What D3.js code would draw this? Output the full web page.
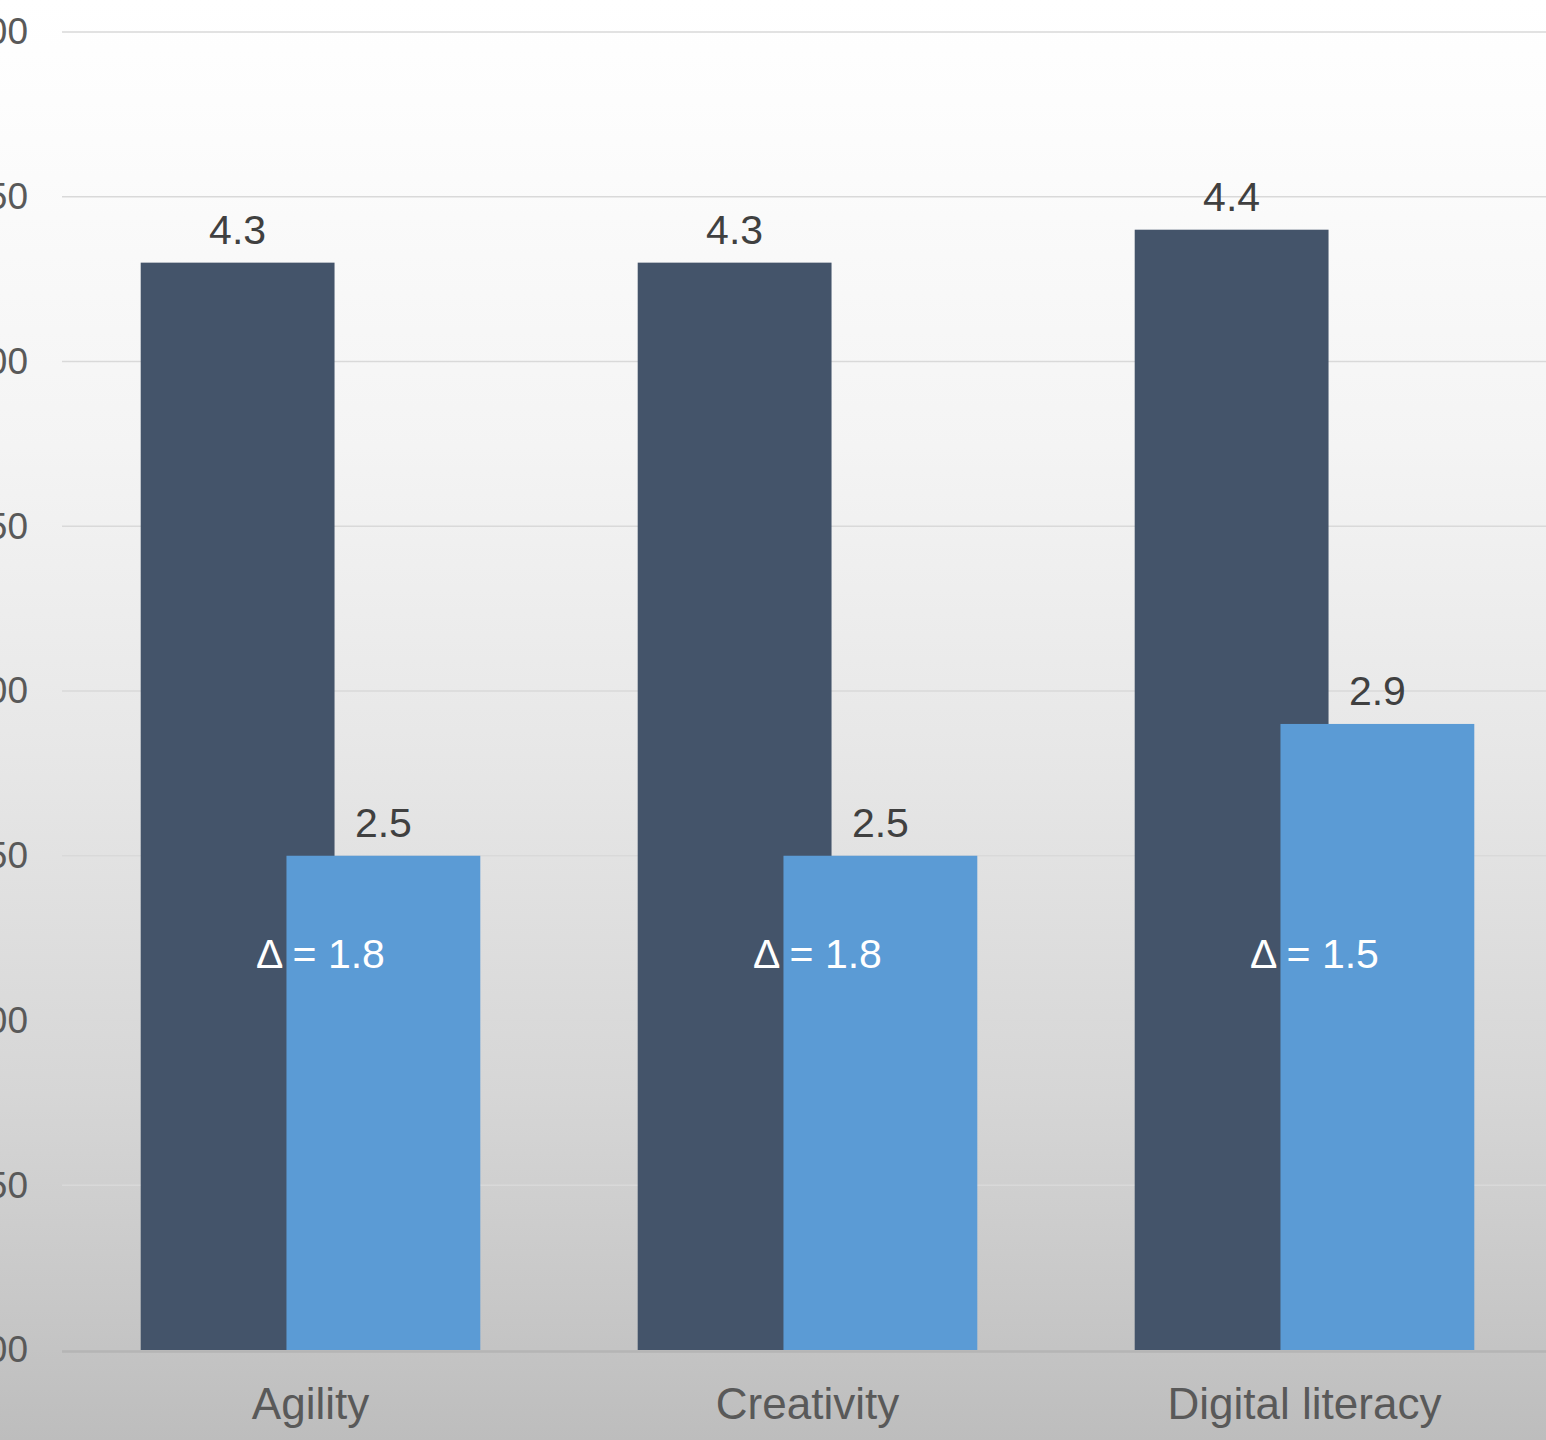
<!DOCTYPE html>
<html>
<head>
<meta charset="utf-8">
<script src="https://cdn.jsdelivr.net/npm/d3@7/dist/d3.min.js"></script>
<style>
  html, body { margin: 0; padding: 0; background: #ffffff; overflow: hidden; }
  svg { display: block; font-family: "Liberation Sans", Arial, sans-serif; }
</style>
</head>
<body>
<svg id="chart" width="1546" height="1440"></svg>
<script>
// Skill categories and the two score series
const categories = ["Agility", "Creativity", "Digital literacy"];
const importance = [4.3, 4.3, 4.4];
const proficiency = [2.5, 2.5, 2.9];
const yTicks = [1.0, 1.5, 2.0, 2.5, 3.0, 3.5, 4.0, 4.5, 5.0];

const W = 1546, H = 1440;
const plot = { left: 62, right: 1553, top: 32, bottom: 1350 };

const svg = d3.select("#chart");

// Backdrop: light-to-grey vertical gradient
const defs = svg.append("defs");
const grad = defs.append("linearGradient")
  .attr("id", "bg").attr("x1", 0).attr("y1", 0).attr("x2", 0).attr("y2", 1);
[[0, "#ffffff"], [0.07, "#fdfdfd"], [0.31, "#f4f4f4"], [0.54, "#e6e6e6"],
 [0.76, "#d6d6d6"], [0.9, "#c8c8c8"], [1, "#bdbdbd"]].forEach(([o, c]) =>
  grad.append("stop").attr("offset", o).attr("stop-color", c));
svg.append("rect").attr("width", W).attr("height", H).attr("fill", "url(#bg)");

const x = d3.scaleBand().domain(categories).range([plot.left, plot.right]).padding(0);
const y = d3.scaleLinear().domain([yTicks[0], yTicks[yTicks.length - 1]])
  .range([plot.bottom, plot.top]);

// Horizontal gridlines
svg.append("g").selectAll("line")
  .data(yTicks.slice(1))
  .join("line")
  .attr("x1", plot.left).attr("x2", W)
  .attr("y1", d => y(d)).attr("y2", d => y(d))
  .attr("stroke", "#d9d9d9").attr("stroke-width", 1.5);

// Value axis (labels only; they run off the left edge)
const yAxis = svg.append("g")
  .attr("transform", "translate(28,0)")
  .call(d3.axisLeft(y).tickValues(yTicks).tickFormat(d3.format(".2f")).tickSize(0).tickPadding(0));
yAxis.select(".domain").remove();
yAxis.selectAll("text")
  .attr("fill", "#595959")
  .style("font-size", "37px")
  .style("font-family", "'Liberation Sans', Arial, sans-serif");

// Bar geometry within each category band
const bw = x.bandwidth();
const barW = bw * 0.39;
const shift = barW * 0.752;
const groupW = barW + shift;
const offset0 = (bw - groupW) / 2;

const rows = categories.map((c, i) => ({ c, a: importance[i], b: proficiency[i] }));

// Importance bars (dark)
svg.append("g").selectAll("rect")
  .data(rows).join("rect")
  .attr("x", d => x(d.c) + offset0)
  .attr("y", d => y(d.a))
  .attr("width", barW)
  .attr("height", d => y(yTicks[0]) - y(d.a))
  .attr("fill", "#44546a");

// Proficiency bars (light blue), drawn over the dark ones
svg.append("g").selectAll("rect")
  .data(rows).join("rect")
  .attr("x", d => x(d.c) + offset0 + shift)
  .attr("y", d => y(d.b))
  .attr("width", barW)
  .attr("height", d => y(yTicks[0]) - y(d.b))
  .attr("fill", "#5b9bd5");

// Category axis line
svg.append("line")
  .attr("x1", plot.left).attr("x2", W)
  .attr("y1", plot.bottom + 1.5).attr("y2", plot.bottom + 1.5)
  .attr("stroke", "#b5b5b5").attr("stroke-width", 2.5);

// Value labels
const labelStyle = sel => sel
  .attr("text-anchor", "middle")
  .attr("fill", "#404040")
  .style("font-size", "41px");

svg.append("g").selectAll("text")
  .data(rows).join("text")
  .call(labelStyle)
  .attr("x", d => x(d.c) + offset0 + barW / 2)
  .attr("y", d => y(d.a) - 19)
  .text(d => d.a.toFixed(1));

svg.append("g").selectAll("text")
  .data(rows).join("text")
  .call(labelStyle)
  .attr("x", d => x(d.c) + offset0 + shift + barW / 2)
  .attr("y", d => y(d.b) - 19)
  .text(d => d.b.toFixed(1));

// Gap annotations
svg.append("g").selectAll("text")
  .data(rows).join("text")
  .attr("text-anchor", "middle")
  .attr("fill", "#ffffff")
  .style("font-size", "41px")
  .attr("x", d => x(d.c) + bw / 2 + 10)
  .attr("y", 968)
  .text(d => "\u0394 = " + (d.a - d.b).toFixed(1));

// Category labels
svg.append("g").selectAll("text")
  .data(categories).join("text")
  .attr("text-anchor", "middle")
  .attr("fill", "#595959")
  .style("font-size", "44px")
  .attr("x", d => x(d) + bw / 2)
  .attr("y", 1419)
  .text(d => d);
</script>
</body>
</html>
